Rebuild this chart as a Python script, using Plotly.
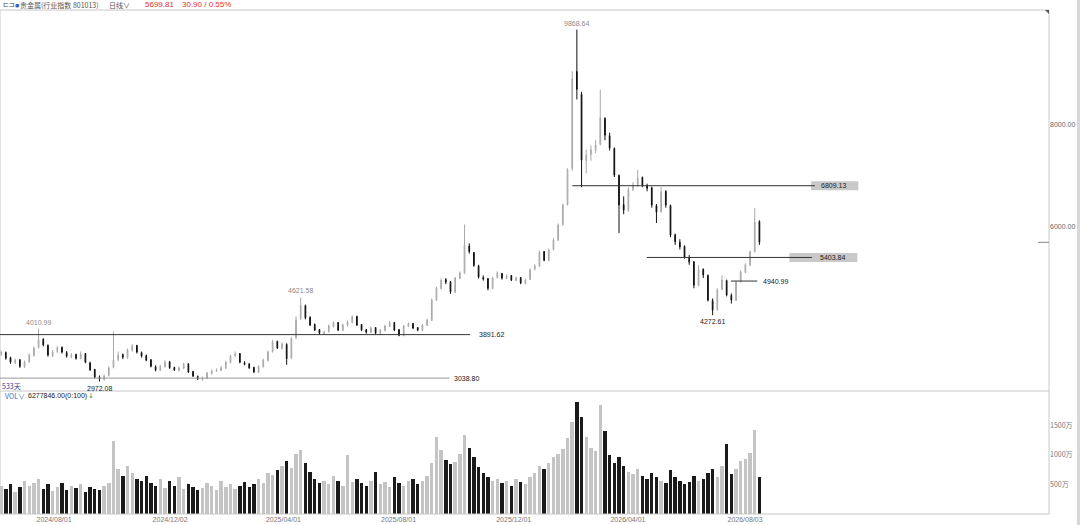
import plotly.graph_objects as go
import pandas as pd

# ---------------- data ----------------
open_ = [3500,3540,3440,3340,3400,3260,3360,3480,3640,3800,
         3680,3480,3560,3640,3540,3460,3500,3420,3520,3340,
         3210,3050,3010,3090,3250,3400,3500,3440,3580,3680,
         3540,3480,3400,3260,3190,3260,3360,3250,3190,3230,
         3320,3170,3070,3010,3030,3130,3190,3190,3230,3340,
         3480,3520,3340,3320,3250,3150,3260,3380,3560,3760,
         3620,3700,3430,3830,4200,4460,4230,4090,3990,3910,
         3950,4050,4130,3970,4070,4130,4250,4090,3990,3930,
         4030,3910,3970,4050,4130,3990,3870,4050,4110,4030,
         3970,4070,4170,4560,4790,4970,4930,4720,4990,5100,
         5630,5500,5240,5010,4990,4790,5010,5090,4990,5050,
         4950,5010,4890,4970,5170,5230,5520,5340,5560,5740,
         6050,6440,7150,9050,8600,7300,7420,7500,7620,8130,
         7790,7540,7010,6440,6320,6740,6810,6970,6810,6770,
         6420,6300,6700,6420,5850,5700,5620,5400,5320,4850,
         5170,5050,4560,4380,4780,4950,4660,4560,4930,5110,
         5250,5520,6110]
high_ = [3580,3560,3460,3420,3410,3380,3520,3660,4010.99,3820,
         3700,3590,3670,3660,3570,3530,3520,3560,3530,3360,
         3220,3090,3110,3270,3950,3560,3520,3620,3710,3690,
         3560,3500,3410,3290,3300,3390,3370,3260,3270,3340,
         3330,3180,3090,3070,3160,3210,3230,3270,3380,3500,
         3560,3530,3370,3330,3260,3290,3420,3580,3790,3770,
         3740,3720,3840,4250,4621.58,4480,4250,4110,4000,3970,
         4090,4150,4140,4110,4170,4270,4260,4100,4000,4050,
         4040,4000,4080,4160,4140,4000,4080,4130,4120,4040,
         4100,4200,4600,4830,4990,5000,4940,5020,5130,6050,
         5680,5510,5260,5050,5000,5030,5130,5100,5070,5060,
         5030,5020,4990,5190,5270,5540,5530,5580,5780,6070,
         6460,7150,9050,9868.64,8650,7520,7600,7700,8690,8150,
         7850,7560,7030,6600,6780,6880,7120,6990,6850,6790,
         6450,6780,6720,6440,5870,5760,5640,5450,5330,5250,
         5190,5070,4600,4800,5050,4970,4700,4950,5150,5290,
         5540,6370,6130]
low_ = [3470,3400,3320,3310,3240,3240,3340,3460,3620,3660,
        3460,3450,3530,3520,3440,3430,3400,3410,3330,3180,
        3030,2972.08,2990,3070,3230,3370,3410,3420,3560,3520,
        3440,3370,3250,3170,3180,3250,3220,3180,3170,3220,
        3140,3060,3000,2990,3020,3110,3160,3180,3220,3330,
        3450,3330,3290,3220,3140,3140,3250,3370,3540,3610,
        3600,3300,3410,3810,4180,4190,4060,3960,3890,3890,
        3930,4030,3960,3960,4050,4120,4060,3960,3910,3920,
        3900,3900,3960,4040,3960,3860,3860,4040,4000,3960,
        3960,4060,4160,4550,4780,4880,4690,4710,4980,5080,
        5480,5220,4990,4950,4760,4780,4990,4970,4980,4940,
        4940,4880,4880,4960,5150,5220,5330,5330,5540,5730,
        6030,6420,7100,8500,6780,7050,7300,7450,7600,7700,
        7500,6980,5880,6250,6300,6700,6790,6780,6700,6380,
        6080,6280,6380,5800,5650,5560,5380,5260,4800,4840,
        5000,4540,4272.61,4360,4760,4640,4500,4550,4910,5100,
        5240,5500,5650]
close_ = [3550,3430,3350,3390,3270,3350,3490,3630,3790,3690,
          3490,3550,3630,3550,3470,3490,3430,3510,3350,3200,
          3060,3020,3080,3240,3390,3490,3450,3590,3670,3550,
          3470,3390,3270,3200,3270,3350,3240,3200,3240,3310,
          3160,3080,3020,3040,3140,3180,3200,3240,3350,3470,
          3510,3350,3310,3240,3160,3270,3390,3550,3750,3630,
          3710,3420,3820,4180,4470,4220,4080,3980,3920,3940,
          4060,4120,3980,4080,4140,4240,4080,3980,3940,4020,
          3920,3980,4060,4120,3980,3880,4060,4100,4020,3980,
          4080,4180,4570,4800,4960,4920,4730,5000,5100,5650,
          5520,5250,5020,4980,4800,5000,5100,5000,5040,4960,
          5000,4900,4960,5160,5240,5510,5350,5550,5750,6040,
          6430,7120,8900,8700,7310,7410,7510,7610,8140,7800,
          7550,7020,6430,6330,6730,6820,6960,6820,6760,6430,
          6290,6690,6430,5840,5710,5610,5410,5310,4860,5160,
          5060,4570,4370,4770,4960,4670,4570,4920,5120,5260,
          5510,6100,5699.81]
# volume in 万 (10k)
volume_ = [480,420,510,380,450,560,470,520,600,430,500,390,460,520,410,480,440,500,380,460,420,
           400,480,520,
           1240,
           760,640,820,700,600,560,640,
           520,480,600,440,560,480,620,420,500,460,400,
           440,520,480,400,560,460,500,420,480,540,460,500,600,520,700,
           660,740,820,900,780,1020,1080,860,720,
           600,520,560,500,640,560,480,1000,540,600,520,480,560,720,500,540,460,620,520,480,560,600,500,560,640,
           860,1300,1080,920,840,880,1020,1340,1120,960,800,700,620,560,600,
           520,560,480,600,540,500,620,700,820,760,860,
           960,1020,1100,1280,1560,1900,1650,1300,1120,1060,1840,1400,1000,860,
           960,820,720,680,760,640,600,700,620,560,520,740,620,560,500,540,
           640,560,600,700,760,620,820,1180,680,760,900,940,1040,1423,627.78]

tick_labels = ["2024/08/01", "2024/12/02", "2025/04/01", "2025/08/01",
               "2025/12/01", "2026/04/01", "2026/08/03"]
price_ticks = [6000, 8000]
vol_ticks = [500, 1000, 1500]

# marked price levels
level_values = [3891.62, 3038.80, 6809.13, 5403.84, 4940.99]
# labelled extremes: candle index and value
extreme_idx = [8, 21, 64, 123, 152]
extreme_vals = [4010.99, 2972.08, 4621.58, 9868.64, 4272.61]

last_price = 5699.81
# --------------------------------------------------------------------------

dates = pd.date_range("2024-06-06", periods=len(close_), freq="119h")
tick_dates = pd.to_datetime(tick_labels, format="%Y/%m/%d")
vol_colors = ["#c4c4c4" if c >= o else "#1a1a1a" for o, c in zip(open_, close_)]

FONT = "Liberation Sans, Arial, sans-serif"
CJK = "Noto Sans CJK SC, Liberation Sans, sans-serif"

fig = go.Figure()
fig.add_trace(go.Candlestick(
    x=dates, open=open_, high=high_, low=low_, close=close_,
    xaxis="x", yaxis="y",
    increasing=dict(line=dict(color="#a8a8a8", width=1), fillcolor="#dedede"),
    decreasing=dict(line=dict(color="#111111", width=1), fillcolor="#111111"),
    whiskerwidth=0, showlegend=False, hoverinfo="skip"))
fig.add_trace(go.Bar(
    x=dates, y=volume_, xaxis="x", yaxis="y2",
    marker=dict(color=vol_colors, line=dict(width=0)),
    width=3.6 * 86400000, showlegend=False, hoverinfo="skip"))

PB = 0.244  # boundary between price and volume panes

fig.update_layout(
    width=1080, height=525,
    margin=dict(l=0, r=31, t=10, b=11),
    paper_bgcolor="white", plot_bgcolor="white",
    bargap=0, boxgap=0.78,
    font=dict(family=FONT, size=7, color="#666"),
    xaxis=dict(type="date", range=["2024-06-04 19:00", "2027-06-21"], anchor="y2",
               rangeslider=dict(visible=False), showgrid=False, zeroline=False,
               showline=False, ticks="", tickvals=tick_dates, ticktext=tick_labels,
               tickfont=dict(size=7, color="#777")),
    yaxis=dict(domain=[PB, 1], range=[2786, 10253], side="right", anchor="x",
               showgrid=False, zeroline=False, showline=False, ticks="",
               tickvals=price_ticks, ticktext=[f"{v:.2f}" for v in price_ticks],
               tickfont=dict(size=7, color="#666")),
    yaxis2=dict(domain=[0, PB], range=[0, 2085], side="right", anchor="x",
                showgrid=False, zeroline=False, showline=False, ticks="",
                tickvals=vol_ticks, ticktext=[f"{v}万" for v in vol_ticks],
                tickfont=dict(size=7, color="#777", family=CJK)),
)

shapes = []
frame = dict(type="line", xref="paper", yref="paper", line=dict(color="#c8c8c8", width=1))
shapes.append({**frame, "x0": 0, "x1": 1, "y0": 1, "y1": 1})
shapes.append({**frame, "x0": 0, "x1": 1, "y0": PB, "y1": PB})
shapes.append({**frame, "x0": 0, "x1": 1, "y0": 0, "y1": 0})
shapes.append({**frame, "x0": 1, "x1": 1, "y0": 0, "y1": 1})
shapes.append({**frame, "x0": 0, "x1": 0, "y0": 0, "y1": 1})
shapes.append(dict(type="rect", xref="paper", yref="paper", x0=1.0267, x1=1.031, y0=-0.03, y1=1.03,
                   fillcolor="#d8d8d8", line=dict(width=0)))
shapes.append(dict(type="path", xref="paper", yref="paper",
                   path="M 0.9962 1 L 1 1 L 1 0.992 Z", fillcolor="#555", line=dict(width=0)))
shapes.append(dict(type="line", xref="paper", yref="y", x0=0.9895, x1=1, y0=last_price, y1=last_price,
                   line=dict(color="#888", width=1)))

lv_style = [
    ("2024-06-04 19:00", "2025-10-15 19:00", "#333"),
    ("2024-06-04 19:00", "2025-09-24", "#999"),
    ("2026-02-01", "2026-10-16", "#333"),
    ("2026-04-21", "2026-10-13", "#333"),
    ("2026-07-19", "2026-08-16", "#333"),
]
lv_text_x = ["2025-10-23", "2025-09-27", "2026-10-20", "2026-10-19", "2026-08-20"]
boxes = {2: ("2026-10-12", "2026-12-01"), 3: ("2026-09-19", "2026-11-30")}
for k, (val, (x0, x1, col)) in enumerate(zip(level_values, lv_style)):
    if k in boxes:
        bx0, bx1 = boxes[k]
        shapes.append(dict(type="rect", xref="x", yref="y", x0=bx0, x1=bx1,
                           y0=val - 88, y1=val + 88, fillcolor="#c9c9c9",
                           line=dict(width=0), layer="below"))
    shapes.append(dict(type="line", xref="x", yref="y", x0=x0, x1=x1, y0=val, y1=val,
                       line=dict(color=col, width=1)))

ann = []
for k, val in enumerate(level_values):
    ann.append(dict(xref="x", yref="y", x=lv_text_x[k], y=val, text=f"{val:.2f}",
                    showarrow=False, xanchor="left", yanchor="middle",
                    font=dict(size=7, color="#222", family=FONT)))

for idx, val in zip(extreme_idx, extreme_vals):
    is_high = abs(high_[idx] - val) < 1e-6
    ann.append(dict(xref="x", yref="y", x=dates[idx], y=val, text=f"{val:.2f}",
                    showarrow=False, xanchor="center",
                    yanchor="bottom" if is_high else "top",
                    yshift=1 if is_high else -1,
                    font=dict(size=7, color="#8a8a8a" if is_high else "#222", family=FONT)))


def px_x(p):
    return p / 1049


def px_y(p):
    return (514 - p) / 504


hdr_y = px_y(4.5)
ann += [
    dict(xref="paper", yref="paper", x=px_x(1), y=hdr_y, text="⊏⊐", showarrow=False,
         xanchor="left", yanchor="middle", font=dict(size=7, color="#444", family="DejaVu Sans")),
    dict(xref="paper", yref="paper", x=px_x(13), y=hdr_y, text="●", showarrow=False,
         xanchor="left", yanchor="middle", font=dict(size=5, color="#3a66c4", family="DejaVu Sans")),
    dict(xref="paper", yref="paper", x=px_x(18), y=hdr_y, text="贵金属(行业指数 801013)", showarrow=False,
         xanchor="left", yanchor="middle", font=dict(size=7, color="#555", family=CJK)),
    dict(xref="paper", yref="paper", x=px_x(107), y=hdr_y, text="日线∨", showarrow=False,
         xanchor="left", yanchor="middle", font=dict(size=7, color="#555", family=CJK)),
    dict(xref="paper", yref="paper", x=px_x(143), y=hdr_y, text=f"{last_price:.2f}", showarrow=False,
         xanchor="left", yanchor="middle", font=dict(size=8, color="#e0312b", family=FONT)),
    dict(xref="paper", yref="paper", x=px_x(180), y=hdr_y, text="30.90 / 0.55%", showarrow=False,
         xanchor="left", yanchor="middle", font=dict(size=8, color="#e0312b", family=FONT)),
    dict(xref="paper", yref="paper", x=px_x(0), y=px_y(386), text="533天", showarrow=False,
         xanchor="left", yanchor="middle", font=dict(size=7, color="#3a3a9a", family=CJK)),
    dict(xref="paper", yref="paper", x=px_x(3), y=px_y(396.5), text="VOL∨", showarrow=False,
         xanchor="left", yanchor="middle", font=dict(size=7, color="#4a6fc0", family=CJK)),
    dict(xref="paper", yref="paper", x=px_x(26), y=px_y(396.5), text="6277846.00(0:100)", showarrow=False,
         xanchor="left", yanchor="middle", font=dict(size=7, color="#222", family=FONT)),
    dict(xref="paper", yref="paper", x=px_x(86), y=px_y(396.5), text="↓", showarrow=False,
         xanchor="left", yanchor="middle", font=dict(size=7, color="#2a9a3a", family="DejaVu Sans")),
]

fig.update_layout(shapes=shapes, annotations=ann)
fig.write_html("out.html", config={"displayModeBar": False},
               post_script="document.body.style.margin='0';document.body.style.overflow='hidden';")
